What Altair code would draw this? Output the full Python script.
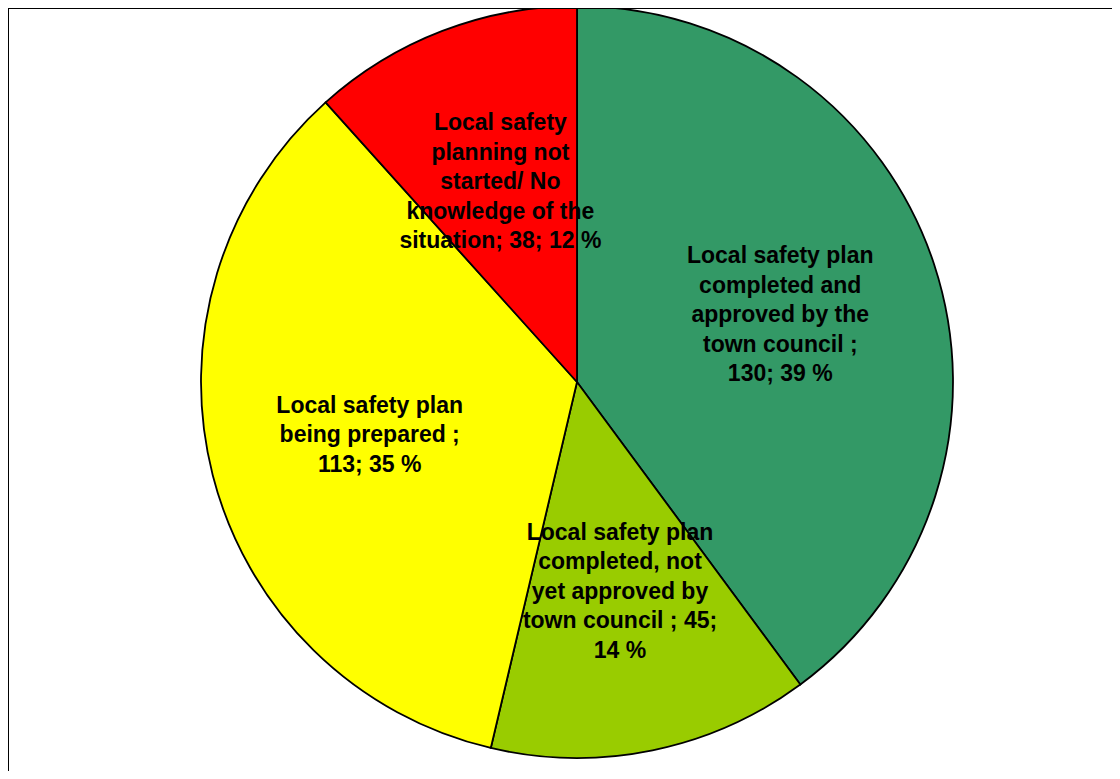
import altair as alt
import pandas as pd

categories = [
    "Local safety plan completed and approved by the town council",
    "Local safety plan completed, not yet approved by town council",
    "Local safety plan being prepared",
    "Local safety planning not started/ No knowledge of the situation",
]
values = [130, 45, 113, 38]
percents = [39, 14, 35, 12]
label_lines = [
    ["Local safety plan", "completed and", "approved by the", "town council ;", "130; 39 %"],
    ["Local safety plan", "completed, not", "yet approved by", "town council ; 45;", "14 %"],
    ["Local safety plan", "being prepared ;", "113; 35 %"],
    ["Local safety", "planning not", "started/ No", "knowledge of the", "situation; 38; 12 %"],
]
colors = ["#339966", "#99CC00", "#FFFF00", "#FF0000"]

df = pd.DataFrame({
    "category": categories,
    "value": values,
    "percent": percents,
    "label": ["\n".join(l) for l in label_lines],
    "order": list(range(len(categories))),
})

W, H = 1104, 763
CX, CY = 569, 374
R = 376
LH = 29.5
LABEL_R = 214

base = alt.Chart(df).encode(
    theta=alt.Theta("value:Q", stack=True),
    order=alt.Order("order:Q"),
    x=alt.value(CX),
    y=alt.value(CY),
)

pie = base.mark_arc(outerRadius=R, stroke="black", strokeWidth=1.8).encode(
    color=alt.Color("category:N", scale=alt.Scale(domain=categories, range=colors), legend=None)
)

label_layers = []
for cat, lines in zip(categories, label_lines):
    label_layers.append(
        base.mark_text(
            font="Liberation Sans", fontWeight="bold", fontSize=23, lineBreak="\n",
            lineHeight=LH, align="center", baseline="middle", color="black",
            dy=-(len(lines) - 1) / 2 * LH,
        ).encode(
            text=alt.condition(alt.datum.category == cat, "label:N", alt.value("")),
            radius=alt.value(LABEL_R),
        )
    )

frame = alt.Chart(alt.Data(values=[{"a": 1}]))
left_rule = frame.mark_rule(color="black", strokeWidth=1).encode(
    x=alt.value(0.5), y=alt.value(0), y2=alt.value(H)
)
top_rule = frame.mark_rule(color="black", strokeWidth=1).encode(
    y=alt.value(0.5), x=alt.value(0), x2=alt.value(W)
)

chart = alt.layer(pie, *label_layers, left_rule, top_rule).properties(
    width=W, height=H, padding=0, background="white",
    autosize=alt.AutoSizeParams(type="none"),
).configure_view(stroke=None)

chart.save("out.html", embed_options={"renderer": "svg", "actions": False})
